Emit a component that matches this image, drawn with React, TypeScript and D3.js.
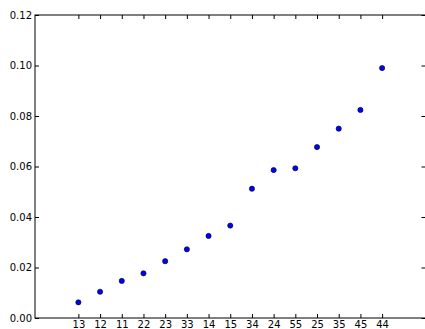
import React, { useEffect, useRef } from "react";
import * as d3 from "d3";

const labels = ["13", "12", "11", "22", "23", "33", "14", "15", "34", "24", "55", "25", "35", "45", "44"];
const values = [0.0062, 0.0104, 0.0147, 0.0177, 0.0225, 0.0272, 0.0325, 0.0366, 0.0512, 0.0586, 0.0593, 0.0677, 0.075, 0.0824, 0.099];
const yTicks = [0, 0.02, 0.04, 0.06, 0.08, 0.1, 0.12];

const width = 425;
const height = 329;
const margin = { top: 15, right: -0.5, bottom: 11, left: 35 };

const App = () => {
  const svgRef = useRef<SVGSVGElement>(null);

  useEffect(() => {
    const svg = d3.select(svgRef.current);
    svg.selectAll("*").remove();

    const x0 = margin.left;
    const x1 = width - margin.right;
    const y0 = height - margin.bottom;
    const y1 = margin.top;

    const xScale = d3.scaleLinear().domain([-2, 16]).range([x0, x1]);
    const yScale = d3.scaleLinear().domain([0, 0.12]).range([y0, y1]);
    const idx = labels.map((_, i) => i);
    const font = "DejaVu Sans, sans-serif";

    // spines
    svg
      .append("rect")
      .attr("x", x0)
      .attr("y", y1)
      .attr("width", x1 - x0)
      .attr("height", y0 - y1)
      .attr("fill", "none")
      .attr("stroke", "black")
      .attr("stroke-width", 1);

    // bottom axis, ticks pointing inward
    const bottom = svg
      .append("g")
      .attr("transform", `translate(0,${y0})`)
      .call(
        d3
          .axisBottom(xScale)
          .tickValues(idx)
          .tickFormat((d) => labels[d as number])
          .tickSizeInner(-4)
          .tickSizeOuter(0)
          .tickPadding(3)
      );
    bottom.select(".domain").remove();
    bottom.selectAll("text").style("font-family", font).style("font-size", "10px").attr("fill", "black");

    const top = svg
      .append("g")
      .attr("transform", `translate(0,${y1})`)
      .call(d3.axisTop(xScale).tickValues(idx).tickFormat(() => "").tickSizeInner(-4).tickSizeOuter(0));
    top.select(".domain").remove();

    const left = svg
      .append("g")
      .attr("transform", `translate(${x0},0)`)
      .call(
        d3
          .axisLeft(yScale)
          .tickValues(yTicks)
          .tickFormat(d3.format(".2f"))
          .tickSizeInner(-4)
          .tickSizeOuter(0)
          .tickPadding(3)
      );
    left.select(".domain").remove();
    left.selectAll("text").style("font-family", font).style("font-size", "10px").attr("fill", "black");

    const right = svg
      .append("g")
      .attr("transform", `translate(${x1},0)`)
      .call(d3.axisRight(yScale).tickValues(yTicks).tickFormat(() => "").tickSizeInner(-4).tickSizeOuter(0));
    right.select(".domain").remove();

    // points
    svg
      .append("g")
      .selectAll("circle")
      .data(values)
      .enter()
      .append("circle")
      .attr("cx", (_, i) => xScale(i))
      .attr("cy", (d) => yScale(d))
      .attr("r", 2.6)
      .attr("fill", "#0000ff")
      .attr("stroke", "black")
      .attr("stroke-width", 0.6);
  }, []);

  return (
    <div style={{ position: "fixed", left: 0, top: 0, width, height, background: "white" }}>
      <svg ref={svgRef} width={width} height={height}></svg>
    </div>
  );
};

export default App;
